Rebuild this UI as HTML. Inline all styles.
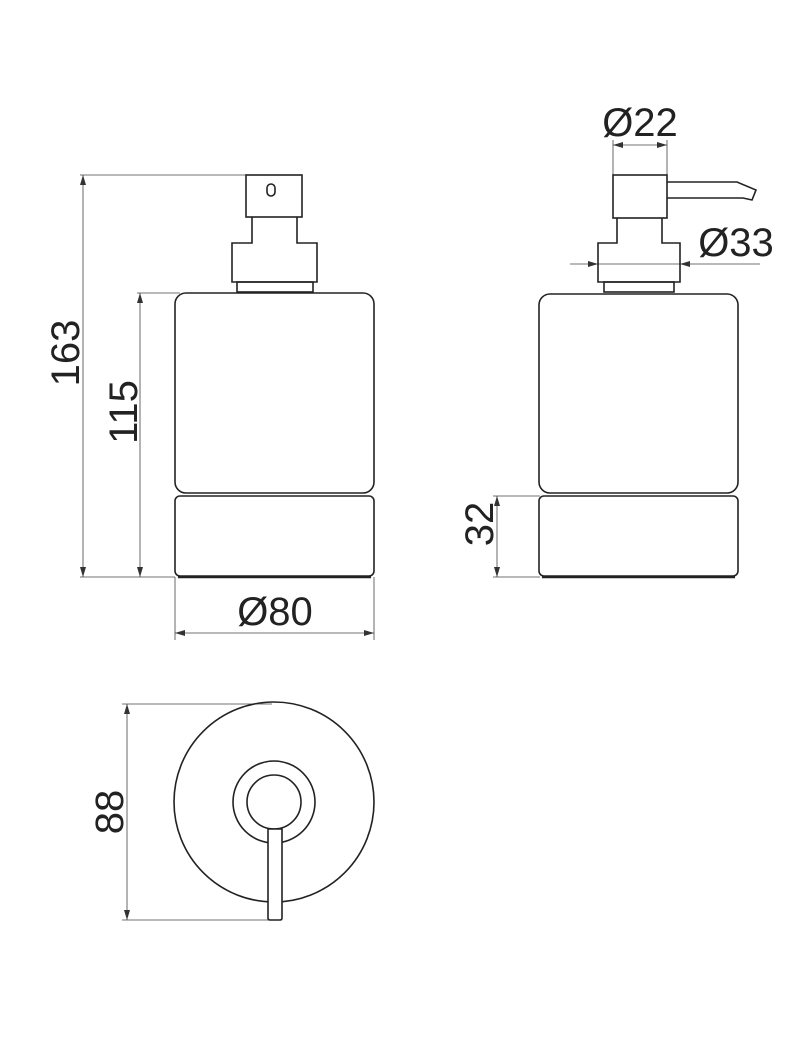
<!DOCTYPE html>
<html><head><style>
html,body{margin:0;padding:0;background:#fff;}
svg{display:block;}
text{font-family:"Liberation Sans",sans-serif;fill:#222;}
</style></head><body>
<svg width="800" height="1047" viewBox="0 0 800 1047" xmlns="http://www.w3.org/2000/svg">
<defs>
<marker id="a" markerWidth="10" markerHeight="8" refX="10" refY="4" orient="auto-start-reverse" markerUnits="userSpaceOnUse">
<path d="M0,1 L10,4 L0,7 Z" fill="#333"/></marker>
</defs>
<g fill="none" stroke="#444" stroke-width="0.8">
<!-- left view dims -->
<line x1="80" y1="175" x2="302" y2="175"/>
<line x1="80" y1="577" x2="175" y2="577"/>
<line x1="83" y1="175" x2="83" y2="577" marker-start="url(#a)" marker-end="url(#a)"/>
<line x1="137" y1="293" x2="180" y2="293"/>
<line x1="140" y1="293" x2="140" y2="577" marker-start="url(#a)" marker-end="url(#a)"/>
<line x1="175" y1="577" x2="175" y2="640"/>
<line x1="374" y1="577" x2="374" y2="640"/>
<line x1="175" y1="633" x2="374" y2="633" marker-start="url(#a)" marker-end="url(#a)"/>
<!-- right view dims -->
<line x1="613" y1="140" x2="613" y2="175"/>
<line x1="667" y1="140" x2="667" y2="175"/>
<line x1="613" y1="145" x2="667" y2="145" marker-start="url(#a)" marker-end="url(#a)"/>
<line x1="570" y1="264" x2="598" y2="264" marker-end="url(#a)"/>
<line x1="760" y1="264" x2="680" y2="264" marker-end="url(#a)"/>
<line x1="598" y1="264" x2="680" y2="264"/>
<line x1="493" y1="496" x2="540" y2="496"/>
<line x1="493" y1="577" x2="540" y2="577"/>
<line x1="497" y1="496" x2="497" y2="577" marker-start="url(#a)" marker-end="url(#a)"/>
<!-- bottom view dims -->
<line x1="122" y1="704" x2="272" y2="704"/>
<line x1="122" y1="920" x2="270" y2="920"/>
<line x1="127" y1="704" x2="127" y2="920" marker-start="url(#a)" marker-end="url(#a)"/>
</g>
<g fill="none" stroke="#222" stroke-width="1.6">
<!-- left dispenser -->
<rect x="246" y="175" width="56" height="42"/>
<rect x="267" y="184" width="8" height="12" rx="4"/>
<path d="M252,217 V243 H232 V282 H317 V243 H297 V217"/>
<rect x="237" y="282" width="76" height="10"/>
<rect x="175" y="293" width="199" height="200" rx="11"/>
<rect x="175" y="496" width="199" height="80" rx="5"/>
<line x1="178" y1="577" x2="371" y2="577" stroke-width="2.5"/>
<!-- right dispenser -->
<rect x="613" y="175" width="54" height="43"/>
<path d="M667,182 H737 L756,190 L752,200 L743,198 H667"/>
<path d="M617,218 V243 H598 V282 H680 V243 H662 V218"/>
<rect x="604" y="282" width="70" height="10"/>
<rect x="539" y="294" width="199" height="199" rx="11"/>
<rect x="539" y="496" width="199" height="80" rx="5"/>
<line x1="542" y1="577" x2="735" y2="577" stroke-width="2.5"/>
<!-- top view -->
<circle cx="274" cy="802" r="100"/>
<circle cx="274" cy="802" r="41"/>
<circle cx="274" cy="802" r="27"/>
<path d="M268,829 V918 Q268,920 270,920 H280 Q282,920 282,918 V829 Z" fill="#fff"/>
</g>
<g font-size="40">
<text x="275" y="625" text-anchor="middle">Ø80</text>
<text x="640" y="136" text-anchor="middle">Ø22</text>
<text x="736" y="256" text-anchor="middle">Ø33</text>
<text transform="translate(79,353) rotate(-90)" text-anchor="middle">163</text>
<text transform="translate(137,412) rotate(-90)" text-anchor="middle">115</text>
<text transform="translate(493,524) rotate(-90)" text-anchor="middle">32</text>
<text transform="translate(123,812) rotate(-90)" text-anchor="middle">88</text>
</g>
</svg>
</body></html>
